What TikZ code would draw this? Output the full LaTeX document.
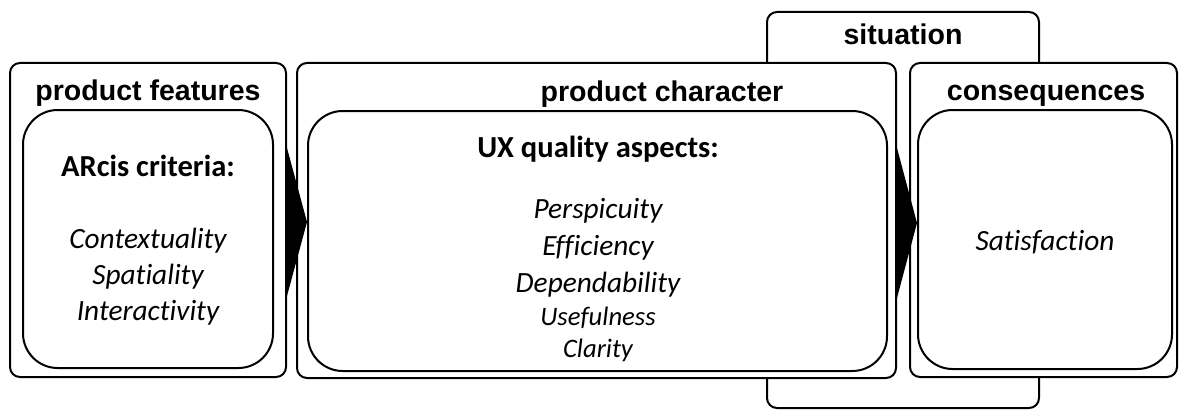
\documentclass[tikz,border=0pt]{standalone}
\usepackage{fontspec}
\setmainfont{Carlito}[Ligatures=NoCommon]
\newfontfamily\titlefont{Liberation Sans}
\usetikzlibrary{fit}

\tikzset{
    outerbox/.style={draw=black, line width=1.5pt, rounded corners=7.5pt, fill=white, inner sep=0pt},
    innerbox/.style={draw=black, line width=1.5pt, rounded corners=26pt, fill=white, inner sep=0pt},
    titletext/.style={font=\titlefont\bfseries\fontsize{21.4}{25}\selectfont, anchor=base, inner sep=0pt},
    headtext/.style={font=\bfseries\fontsize{22.9}{27}\selectfont, anchor=base, inner sep=0pt},
    itemtext/.style={font=\itshape\fontsize{22}{27}\selectfont, anchor=base, inner sep=0pt},
    smallitem/.style={font=\itshape\fontsize{20}{24}\selectfont, anchor=base, inner sep=0pt},
    chevron/.style={fill=black}
}

\begin{document}
\begin{tikzpicture}[x=0.75pt, y=-0.75pt]

    \useasboundingbox (0,0) rectangle (1180,410);

    % situation - behind the other boxes
    \node[outerbox, fit={(767,12) (1039,408)}] (situation) {};
    \node[titletext] (situationtitle) at (903,45) {situation};

    % product features
    \node[outerbox, fit={(10,63) (286,377)}] (features) {};
    \node[titletext] (featurestitle) at (148,100) {product features};
    \node[innerbox, fit={(23,110) (273,368)}] (featuresinner) {};
    \node[headtext] (arcis) at (148,176) {ARcis criteria:};
    \foreach \name/\y in {Contextuality/248, Spatiality/284, Interactivity/320}
        \node[itemtext] (\name) at (148,\y) {\name};

    % product character
    \node[outerbox, fit={(297,63) (896,378)}] (character) {};
    \node[titletext] (charactertitle) at (662,101) {product character};
    \node[innerbox, fit={(308,111) (887,371)}] (characterinner) {};
    \node[headtext] (ux) at (598,157) {UX quality aspects:};
    \foreach \name/\y in {Perspicuity/218, Efficiency/255, Dependability/292}
        \node[itemtext] (\name) at (598,\y) {\name};
    \foreach \name/\y in {Usefulness/325, Clarity/357}
        \node[smallitem] (\name) at (598,\y) {\name};

    % consequences
    \node[outerbox, fit={(910,63) (1177,377)}] (consequences) {};
    \node[titletext] (consequencestitle) at (1046,100) {consequences};
    \node[innerbox, fit={(918,110) (1172,369)}] (consequencesinner) {};
    \node[itemtext] (satisfaction) at (1045,250) {Satisfaction};

    % arrows between the boxes
    \fill[chevron] (features.east |- 0,148) -- (characterinner.west |- 0,222) -- (features.east |- 0,296) -- cycle;
    \fill[chevron] (character.east |- 0,148) -- (consequencesinner.west |- 0,223) -- (character.east |- 0,298) -- cycle;

\end{tikzpicture}
\end{document}
